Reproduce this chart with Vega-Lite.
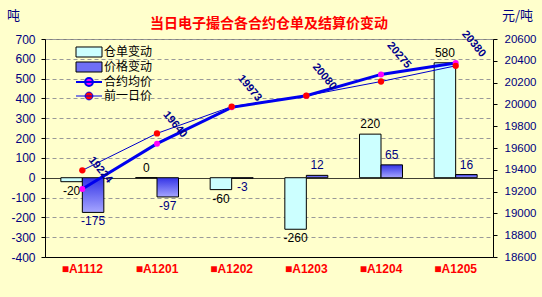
{
  "$schema": "https://vega.github.io/schema/vega-lite/v6.json",
  "width": 448,
  "height": 218,
  "autosize": {"type": "none"},
  "padding": {"left": 45, "top": 39, "right": 49, "bottom": 40},
  "background": "#FFFFCC",
  "config": {"view": {"stroke": "#808080", "fill": "#FFFFCC"}, "font": "Liberation Sans",
    "locale": {"number": {"decimal": ".", "thousands": ",", "grouping": [3], "currency": ["", ""], "minus": "-"}}},
  "title": {"text": "当日电子撮合各合约仓单及结算价变动", "color": "#FF0000", "font": "Noto Sans CJK SC", "fontSize": 14, "fontWeight": "bold", "anchor": "middle", "offset": -22},
  "datasets": {
    "bars": [
      {"contract": "■A1112", "series": "仓单变动", "value": -20},
      {"contract": "■A1112", "series": "价格变动", "value": -175},
      {"contract": "■A1201", "series": "仓单变动", "value": 0},
      {"contract": "■A1201", "series": "价格变动", "value": -97},
      {"contract": "■A1202", "series": "仓单变动", "value": -60},
      {"contract": "■A1202", "series": "价格变动", "value": -3},
      {"contract": "■A1203", "series": "仓单变动", "value": -260},
      {"contract": "■A1203", "series": "价格变动", "value": 12},
      {"contract": "■A1204", "series": "仓单变动", "value": 220},
      {"contract": "■A1204", "series": "价格变动", "value": 65},
      {"contract": "■A1205", "series": "仓单变动", "value": 580},
      {"contract": "■A1205", "series": "价格变动", "value": 16}
    ],
    "prices": [
      {"contract": "■A1112", "series": "合约均价", "price": 19224},
      {"contract": "■A1201", "series": "合约均价", "price": 19640},
      {"contract": "■A1202", "series": "合约均价", "price": 19973},
      {"contract": "■A1203", "series": "合约均价", "price": 20080},
      {"contract": "■A1204", "series": "合约均价", "price": 20275},
      {"contract": "■A1205", "series": "合约均价", "price": 20380},
      {"contract": "■A1112", "series": "前一日价", "price": 19395},
      {"contract": "■A1201", "series": "前一日价", "price": 19734},
      {"contract": "■A1202", "series": "前一日价", "price": 19980},
      {"contract": "■A1203", "series": "前一日价", "price": 20080},
      {"contract": "■A1204", "series": "前一日价", "price": 20210},
      {"contract": "■A1205", "series": "前一日价", "price": 20354}
    ]
  },
  "layer": [
    {
      "data": {"name": "bars"},
      "encoding": {
        "x": {"field": "contract", "type": "nominal", "sort": null,
          "scale": {"paddingInner": 0.424, "paddingOuter": 0.212},
          "axis": {"title": null, "labelAngle": 0, "labelColor": "#FF0000", "labelFontWeight": "bold", "labelFontSize": 12, "labelFont": "Liberation Sans", "labelPadding": 6, "ticks": false, "domain": true, "domainColor": "#000000"}},
        "xOffset": {"field": "series", "type": "nominal", "sort": ["仓单变动", "价格变动"], "scale": {"paddingInner": 0, "paddingOuter": 0}},
        "y": {"field": "value", "type": "quantitative",
          "scale": {"domain": [-400, 700], "nice": false},
          "axis": {"values": [-400, -300, -200, -100, 0, 100, 200, 300, 400, 500, 600, 700], "labelOverlap": false, "grid": true,
            "gridDash": {"condition": {"test": "datum.value === 0", "value": [1, 0]}, "value": [4, 3]},
            "gridColor": {"condition": {"test": "datum.value === 0", "value": "#000000"}, "value": "#999999"},
            "domainColor": "#000000", "tickColor": "#000000", "tickSize": 4, "labelColor": "#000080", "labelFontSize": 12, "labelPadding": 6,
            "title": "吨", "titleAngle": 0, "titleX": -32, "titleY": -24, "titleAlign": "center", "titleBaseline": "middle", "titleColor": "#000080", "titleFont": "Noto Sans CJK SC", "titleFontSize": 13, "titleFontWeight": "normal"}}
      },
      "layer": [
        {
          "mark": {"type": "bar", "stroke": "#000000", "strokeWidth": 1},
          "encoding": {
            "fill": {
              "condition": {"test": "datum.series === '价格变动'", "value": {"gradient": "linear", "x1": 0, "y1": 0, "x2": 0, "y2": 1, "stops": [{"offset": 0, "color": "#3333E6"}, {"offset": 1, "color": "#A6A6FF"}]}},
              "field": "series", "type": "nominal",
              "scale": {"domain": ["仓单变动", "价格变动", "合约均价", "前一日价"], "range": ["#CCFFFF", "#6F6FF5", "#FF00FF", "#FF0000"]},
              "legend": {"title": null, "orient": "none", "legendX": 38, "legendY": 7, "symbolSize": 676, "labelFont": "Noto Sans CJK SC", "labelFontSize": 12, "labelColor": "#000000", "labelOffset": 9, "rowPadding": -1, "symbolOpacity": 1,
                "symbolType": {"expr": "(datum.value === '仓单变动' || datum.value === '价格变动') ? 'M-1,-0.385H1V0.385H-1Z' : 'M-1,0H1M-0.3,0A0.3,0.3,0,1,0,0.3,0A0.3,0.3,0,1,0,-0.3,0Z'"},
                "symbolStrokeColor": {"expr": "(datum.value === '仓单变动' || datum.value === '价格变动') ? '#000000' : '#0000EE'"},
                "symbolStrokeWidth": {"expr": "datum.value === '合约均价' ? 2 : 1"}
              }
            }
          }
        },
        {
          "transform": [{"filter": "datum.value >= 0"}],
          "mark": {"type": "text", "baseline": "bottom", "dy": -3, "fontSize": 12},
          "encoding": {
            "text": {"field": "value", "type": "quantitative"},
            "color": {"condition": {"test": "datum.series === '价格变动'", "value": "#000080"}, "value": "#000000"}
          }
        },
        {
          "transform": [{"filter": "datum.value < 0"}],
          "mark": {"type": "text", "baseline": "top", "dy": 4, "fontSize": 12},
          "encoding": {
            "text": {"field": "value", "type": "quantitative"},
            "color": {"condition": {"test": "datum.series === '价格变动'", "value": "#000080"}, "value": "#000000"}
          }
        }
      ]
    },
    {
      "data": {"name": "prices"},
      "encoding": {
        "x": {"field": "contract", "type": "nominal", "sort": null, "scale": {"paddingInner": 0.424, "paddingOuter": 0.212},
          "axis": {"title": null, "labelAngle": 0, "labelColor": "#FF0000", "labelFontWeight": "bold", "labelFontSize": 12, "labelFont": "Liberation Sans", "labelPadding": 6, "ticks": false, "domain": true, "domainColor": "#000000"}},
        "y": {"field": "price", "type": "quantitative",
          "scale": {"domain": [18600, 20600], "nice": false, "zero": false},
          "axis": {"orient": "right", "values": [18600, 18800, 19000, 19200, 19400, 19600, 19800, 20000, 20200, 20400, 20600], "labelOverlap": false, "format": "d", "grid": false, "domainColor": "#000000", "tickColor": "#000000", "tickSize": 4, "labelColor": "#000080", "labelFontSize": 11.5, "labelPadding": 7,
            "title": "元/吨", "titleAngle": 0, "titleX": 24, "titleY": -24, "titleAlign": "center", "titleBaseline": "middle", "titleColor": "#000080", "titleFont": "Noto Sans CJK SC", "titleFontSize": 13, "titleFontWeight": "normal"}}
      },
      "layer": [
        {
          "transform": [{"filter": "datum.series === '前一日价'"}],
          "mark": {"type": "line", "stroke": "#0000CC", "strokeWidth": 1},
          "encoding": {}
        },
        {
          "transform": [{"filter": "datum.series === '合约均价'"}],
          "mark": {"type": "line", "stroke": "#0000EE", "strokeWidth": 3},
          "encoding": {}
        },
        {
          "transform": [{"filter": "datum.series === '合约均价'"}],
          "mark": {"type": "circle", "color": "#FF00FF", "size": 36, "opacity": 1},
          "encoding": {}
        },
        {
          "transform": [{"filter": "datum.series === '前一日价'"}],
          "mark": {"type": "circle", "color": "#FF0000", "size": 40, "opacity": 1},
          "encoding": {}
        },
        {
          "transform": [{"filter": "datum.series === '合约均价'"}],
          "mark": {"type": "text", "angle": 50, "align": "center", "baseline": "middle", "dx": -3, "dy": -26, "fontSize": 11, "fontWeight": "bold", "color": "#00008B"},
          "encoding": {"text": {"field": "price", "type": "quantitative", "format": "d"}}
        }
      ]
    }
  ],
  "resolve": {"scale": {"y": "independent"}}
}
